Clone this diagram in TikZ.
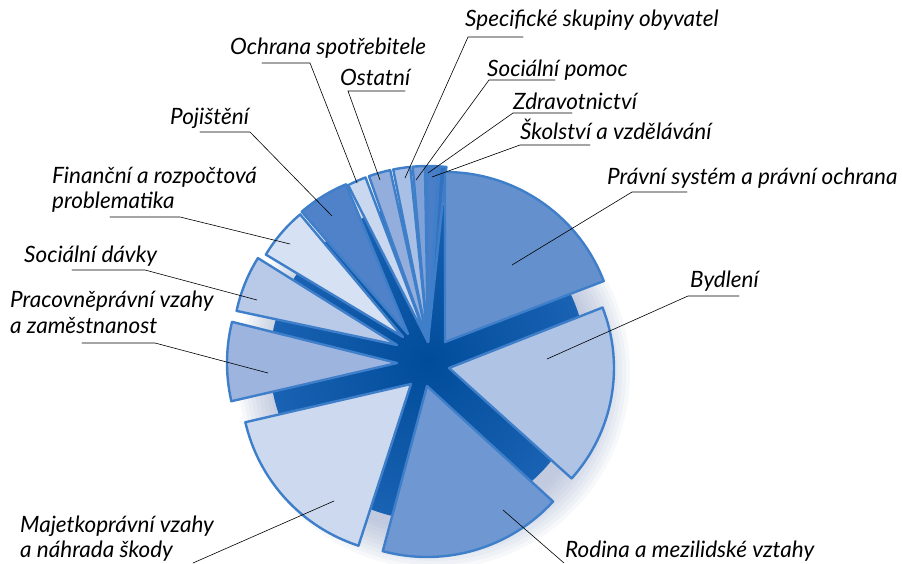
\documentclass[tikz,border=0pt]{standalone}
\usepackage{fontspec}
\setmainfont{Lato}
\usepackage{tikz}
\usepackage{tkz-euclide}
\definecolor{rim}{HTML}{3F7FCA}
\definecolor{basedark}{HTML}{004C9A}
\definecolor{baselight}{HTML}{1A62B3}
\definecolor{glow}{HTML}{8FA0C4}
\definecolor{cpravni}{HTML}{6491CD}
\definecolor{cbydleni}{HTML}{AFC3E5}
\definecolor{crodina}{HTML}{6F97D1}
\definecolor{cmajetek}{HTML}{CCD9EF}
\definecolor{cpracovni}{HTML}{9DB4DF}
\definecolor{cdavky}{HTML}{B9CAE9}
\definecolor{cfinance}{HTML}{D6E1F3}
\definecolor{cpojisteni}{HTML}{4F82C9}
\definecolor{cochrana}{HTML}{C9D7EF}
\definecolor{costatni}{HTML}{93AEDD}
\definecolor{cspecif}{HTML}{A9C0E6}
\definecolor{cpomoc}{HTML}{80A2D8}
\definecolor{czdravi}{HTML}{4A7EC8}
\definecolor{cskolstvi}{HTML}{3471BE}
\tikzset{
  slice/.style={draw=rim, line width=2.4pt, line join=round},
  leader/.style={line width=0.6pt, black},
  lbl/.style={inner sep=0pt, anchor=base west, align=left,
    font=\itshape\fontsize{22.5}{25}\selectfont},
}

\begin{document}
\begin{tikzpicture}[x=1pt, y=1pt]
\useasboundingbox (0,0) rectangle (902,563);

% soft shadow and dark base
\foreach \r in {196,192,...,160}
  \fill[glow, opacity=0.08] (434,190) circle (\r);
\shade[inner color=basedark, outer color=baselight] (428,201) circle (158);

% apexes of the slices
\tkzDefPoint(428,221){S}
\tkzDefPoint(445,221){P1}
\tkzDefPoint(449,195){P2}
\tkzDefPoint(427,177){P3}
\tkzDefPoint(411,179){P4}
\tkzDefPoint(397,200){P5}
\tkzDefPoint(397,218){P6}
\tkzDefPoint(403,226){P7}
\tkzDefPoint(408,229){P8}

% small slices
\draw[slice, fill=cochrana] (S) -- ++(117:176) arc[start angle=117, end angle=110.8, radius=176] -- cycle;
\draw[slice, fill=costatni] (S) -- ++(109.6:176) arc[start angle=109.6, end angle=102.4, radius=176] -- cycle;
\draw[slice, fill=cspecif] (S) -- ++(101.4:176) arc[start angle=101.4, end angle=95.8, radius=176] -- cycle;
\draw[slice, fill=cpomoc] (S) -- ++(95:176) arc[start angle=95, end angle=91, radius=176] -- cycle;
\draw[slice, fill=czdravi] (S) -- ++(90.4:176) arc[start angle=90.4, end angle=86.8, radius=176] -- cycle;
\draw[slice, fill=cskolstvi] (S) -- ++(86.2:176) arc[start angle=86.2, end angle=84, radius=176] -- cycle;

% large slices
\draw[slice, fill=cpojisteni] (P8) -- ++(112.5:162) arc[start angle=112.5, end angle=131, radius=162] -- cycle;
\draw[slice, fill=cfinance] (P7) -- ++(130:160) arc[start angle=130, end angle=149, radius=160] -- cycle;
\draw[slice, fill=cdavky] (P6) -- ++(148:164) arc[start angle=148, end angle=168, radius=164] -- cycle;
\draw[slice, fill=cpracovni] (P5) -- ++(166:170) arc[start angle=166, end angle=193, radius=170] -- cycle;
\draw[slice, fill=cmajetek] (P4) -- ++(193:170) arc[start angle=193, end angle=252, radius=170] -- cycle;
\draw[slice, fill=crodina] (P3) -- ++(-105:171) arc[start angle=-105, end angle=-42.5, radius=171] -- cycle;
\draw[slice, fill=cbydleni] (P2) -- ++(-42:165) arc[start angle=-42, end angle=21.5, radius=165] -- cycle;
\draw[slice, fill=cpravni] (P1) -- ++(21:170) arc[start angle=21, end angle=90, radius=170] -- cycle;

% labels (base = last line)
\node[lbl] (ochrana) at (230,508) {Ochrana spotřebitele};
\node[lbl] (ostatni) at (340,477) {Ostatní};
\node[lbl] (pojisteni) at (170,438) {Pojištění};
\node[lbl] (finance) at (52,354) {Finanční a rozpočtová\\problematika};
\node[lbl] (specif) at (465,536) {Specifické skupiny obyvatel};
\node[lbl] (pomoc) at (487,486) {Sociální pomoc};
\node[lbl] (zdravi) at (513,453) {Zdravotnictví};
\node[lbl] (skolstvi) at (520,423) {Školství a vzdělávání};
\node[lbl] (pravni) at (607,378) {Právní systém a právní ochrana};
\node[lbl] (bydleni) at (690,276) {Bydlení};
\node[lbl] (davky) at (24,300) {Sociální dávky};
\node[lbl] (pracovni) at (10,230) {Pracovněprávní vzahy\\a zaměstnanost};
\node[lbl] (majetek) at (20,6) {Majetkoprávní vzahy\\a náhrada škody};
\node[lbl] (rodina) at (565,6) {Rodina a mezilidské vztahy};

% leader lines
\tkzDefPoint(262,500){a1} \tkzDefPoint(310,500){a2} \tkzDefPoint(357,380){a3}
\tkzDefPoint(405,472){b1} \tkzDefPoint(348,472){b2} \tkzDefPoint(380,383){b3}
\tkzDefPoint(200,431){c1} \tkzDefPoint(250,431){c2} \tkzDefPoint(332,347){c3}
\tkzDefPoint(110,346){d1} \tkzDefPoint(180,346){d2} \tkzDefPoint(290,319){d3}
\tkzDefPoint(523,526){e1} \tkzDefPoint(468,526){e2} \tkzDefPoint(405,385){e3}
\tkzDefPoint(555,483){f1} \tkzDefPoint(489,483){f2} \tkzDefPoint(416,383){f3}
\tkzDefPoint(572,450){g1} \tkzDefPoint(513,450){g2} \tkzDefPoint(428,390){g3}
\tkzDefPoint(590,418){h1} \tkzDefPoint(520,418){h2} \tkzDefPoint(432,386){h3}
\tkzDefPoint(687,371){i1} \tkzDefPoint(632,371){i2} \tkzDefPoint(512,298){i3}
\tkzDefPoint(739,267){j1} \tkzDefPoint(688,267){j2} \tkzDefPoint(547,204){j3}
\tkzDefPoint(72,293){k1} \tkzDefPoint(145,293){k2} \tkzDefPoint(257,263){k3}
\tkzDefPoint(82,220){l1} \tkzDefPoint(155,220){l2} \tkzDefPoint(268,190){l3}
\tkzDefPoint(193,0){m1} \tkzDefPoint(334,62){m2}
\tkzDefPoint(564,0){n1} \tkzDefPoint(503,53){n2}
\tkzDrawPolySeg[leader](a1,a2,a3)
\tkzDrawPolySeg[leader](b1,b2,b3)
\tkzDrawPolySeg[leader](c1,c2,c3)
\tkzDrawPolySeg[leader](d1,d2,d3)
\tkzDrawPolySeg[leader](e1,e2,e3)
\tkzDrawPolySeg[leader](f1,f2,f3)
\tkzDrawPolySeg[leader](g1,g2,g3)
\tkzDrawPolySeg[leader](h1,h2,h3)
\tkzDrawPolySeg[leader](i1,i2,i3)
\tkzDrawPolySeg[leader](j1,j2,j3)
\tkzDrawPolySeg[leader](k1,k2,k3)
\tkzDrawPolySeg[leader](l1,l2,l3)
\tkzDrawSegment[leader](m1,m2)
\tkzDrawSegment[leader](n1,n2)
\end{tikzpicture}
\end{document}
